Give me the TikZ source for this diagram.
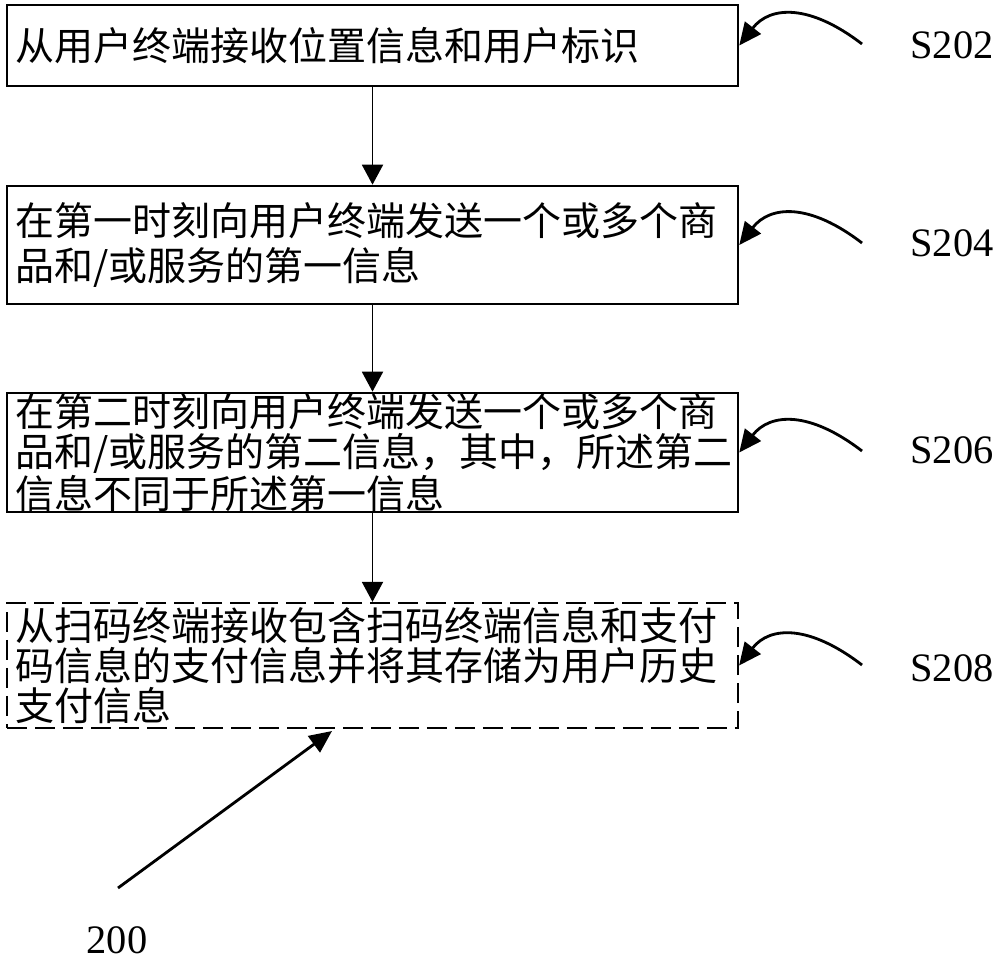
\documentclass[tikz,border=0pt]{standalone}
\usepackage{fontspec}
\setmainfont{Liberation Serif}
\newfontfamily\cjk{Noto Sans CJK SC}
\usetikzlibrary{positioning}
\usetikzlibrary{arrows.meta}
\tikzset{
    stepbox/.style = {rectangle, line width=1.5pt, draw=black, align=left, text width=14.3cm, inner xsep=0.16cm, inner ysep=0pt, font=\cjk\fontsize{22.2pt}{22.8pt}\selectfont, text=black},
    stepboxd/.style = {stepbox, line width=1.3pt, dash pattern=on 0.4cm off 0.16cm},
    steplabel/.style = {inner sep=0pt, font=\fontsize{23pt}{25pt}\selectfont, text=black},
    edgen/.style = {-{Triangle[length=0.4cm,width=0.42cm]}, line width=1.1pt, black},
    edgec/.style = {-{Triangle[length=0.45cm,width=0.4cm]}, line width=1.6pt, black}, % marker
}
\begin{document}
\begin{tikzpicture}[x=0.02cm, y=-0.02cm]
  \useasboundingbox (0,0) rectangle (1000,962);
  \node[stepbox, minimum height=1.62cm] (s202) at (372.5,45.5) {从用户终端接收位置信息和用户标识};
  \node[stepbox, minimum height=2.36cm] (s204) at (372.5,245) {在第一时刻向用户终端发送一个或多个商\\[2.3pt]品和/或服务的第一信息};
  \node[stepbox, minimum height=2.38cm] (s206) at (372.5,452.5) {在第二时刻向用户终端发送一个或多个商\\品和/或服务的第二信息，其中，所述第二\\信息不同于所述第一信息};
  \node[stepboxd, minimum height=2.5cm] (s208) at (372.5,665.5) {从扫码终端接收包含扫码终端信息和支付\\码信息的支付信息并将其存储为用户历史\\支付信息};
  \draw[edgen] (s202) -- (s204);
  \draw[edgen] (s204) -- (s206);
  \draw[edgen] (s206) -- (s208);
  % step markers
  \node[steplabel] (l202) at (952,45) {S202};
  \node[steplabel] (l204) at (952,243) {S204};
  \node[steplabel] (l206) at (952,450) {S206};
  \node[steplabel] (l208) at (952,668) {S208};
  \coordinate (c202) at (862,44);
  \coordinate (c204) at (862,243);
  \coordinate (c206) at (862,451);
  \coordinate (c208) at (862,665);
  \draw[edgec] (c202) .. controls +(-52,-40) and +(31,-40) .. (s202.east);
  \draw[edgec] (c204) .. controls +(-52,-40) and +(31,-40) .. (s204.east);
  \draw[edgec] (c206) .. controls +(-52,-40) and +(31,-40) .. (s206.east);
  \draw[edgec] (c208) .. controls +(-52,-40) and +(31,-40) .. (s208.east);
  \coordinate (t200) at (118,888);
  \coordinate (h200) at (332,731);
  \draw[edgec] (t200) -- (h200);
  \node[steplabel] (l200) at (117,940) {200};
\end{tikzpicture}
\end{document}
